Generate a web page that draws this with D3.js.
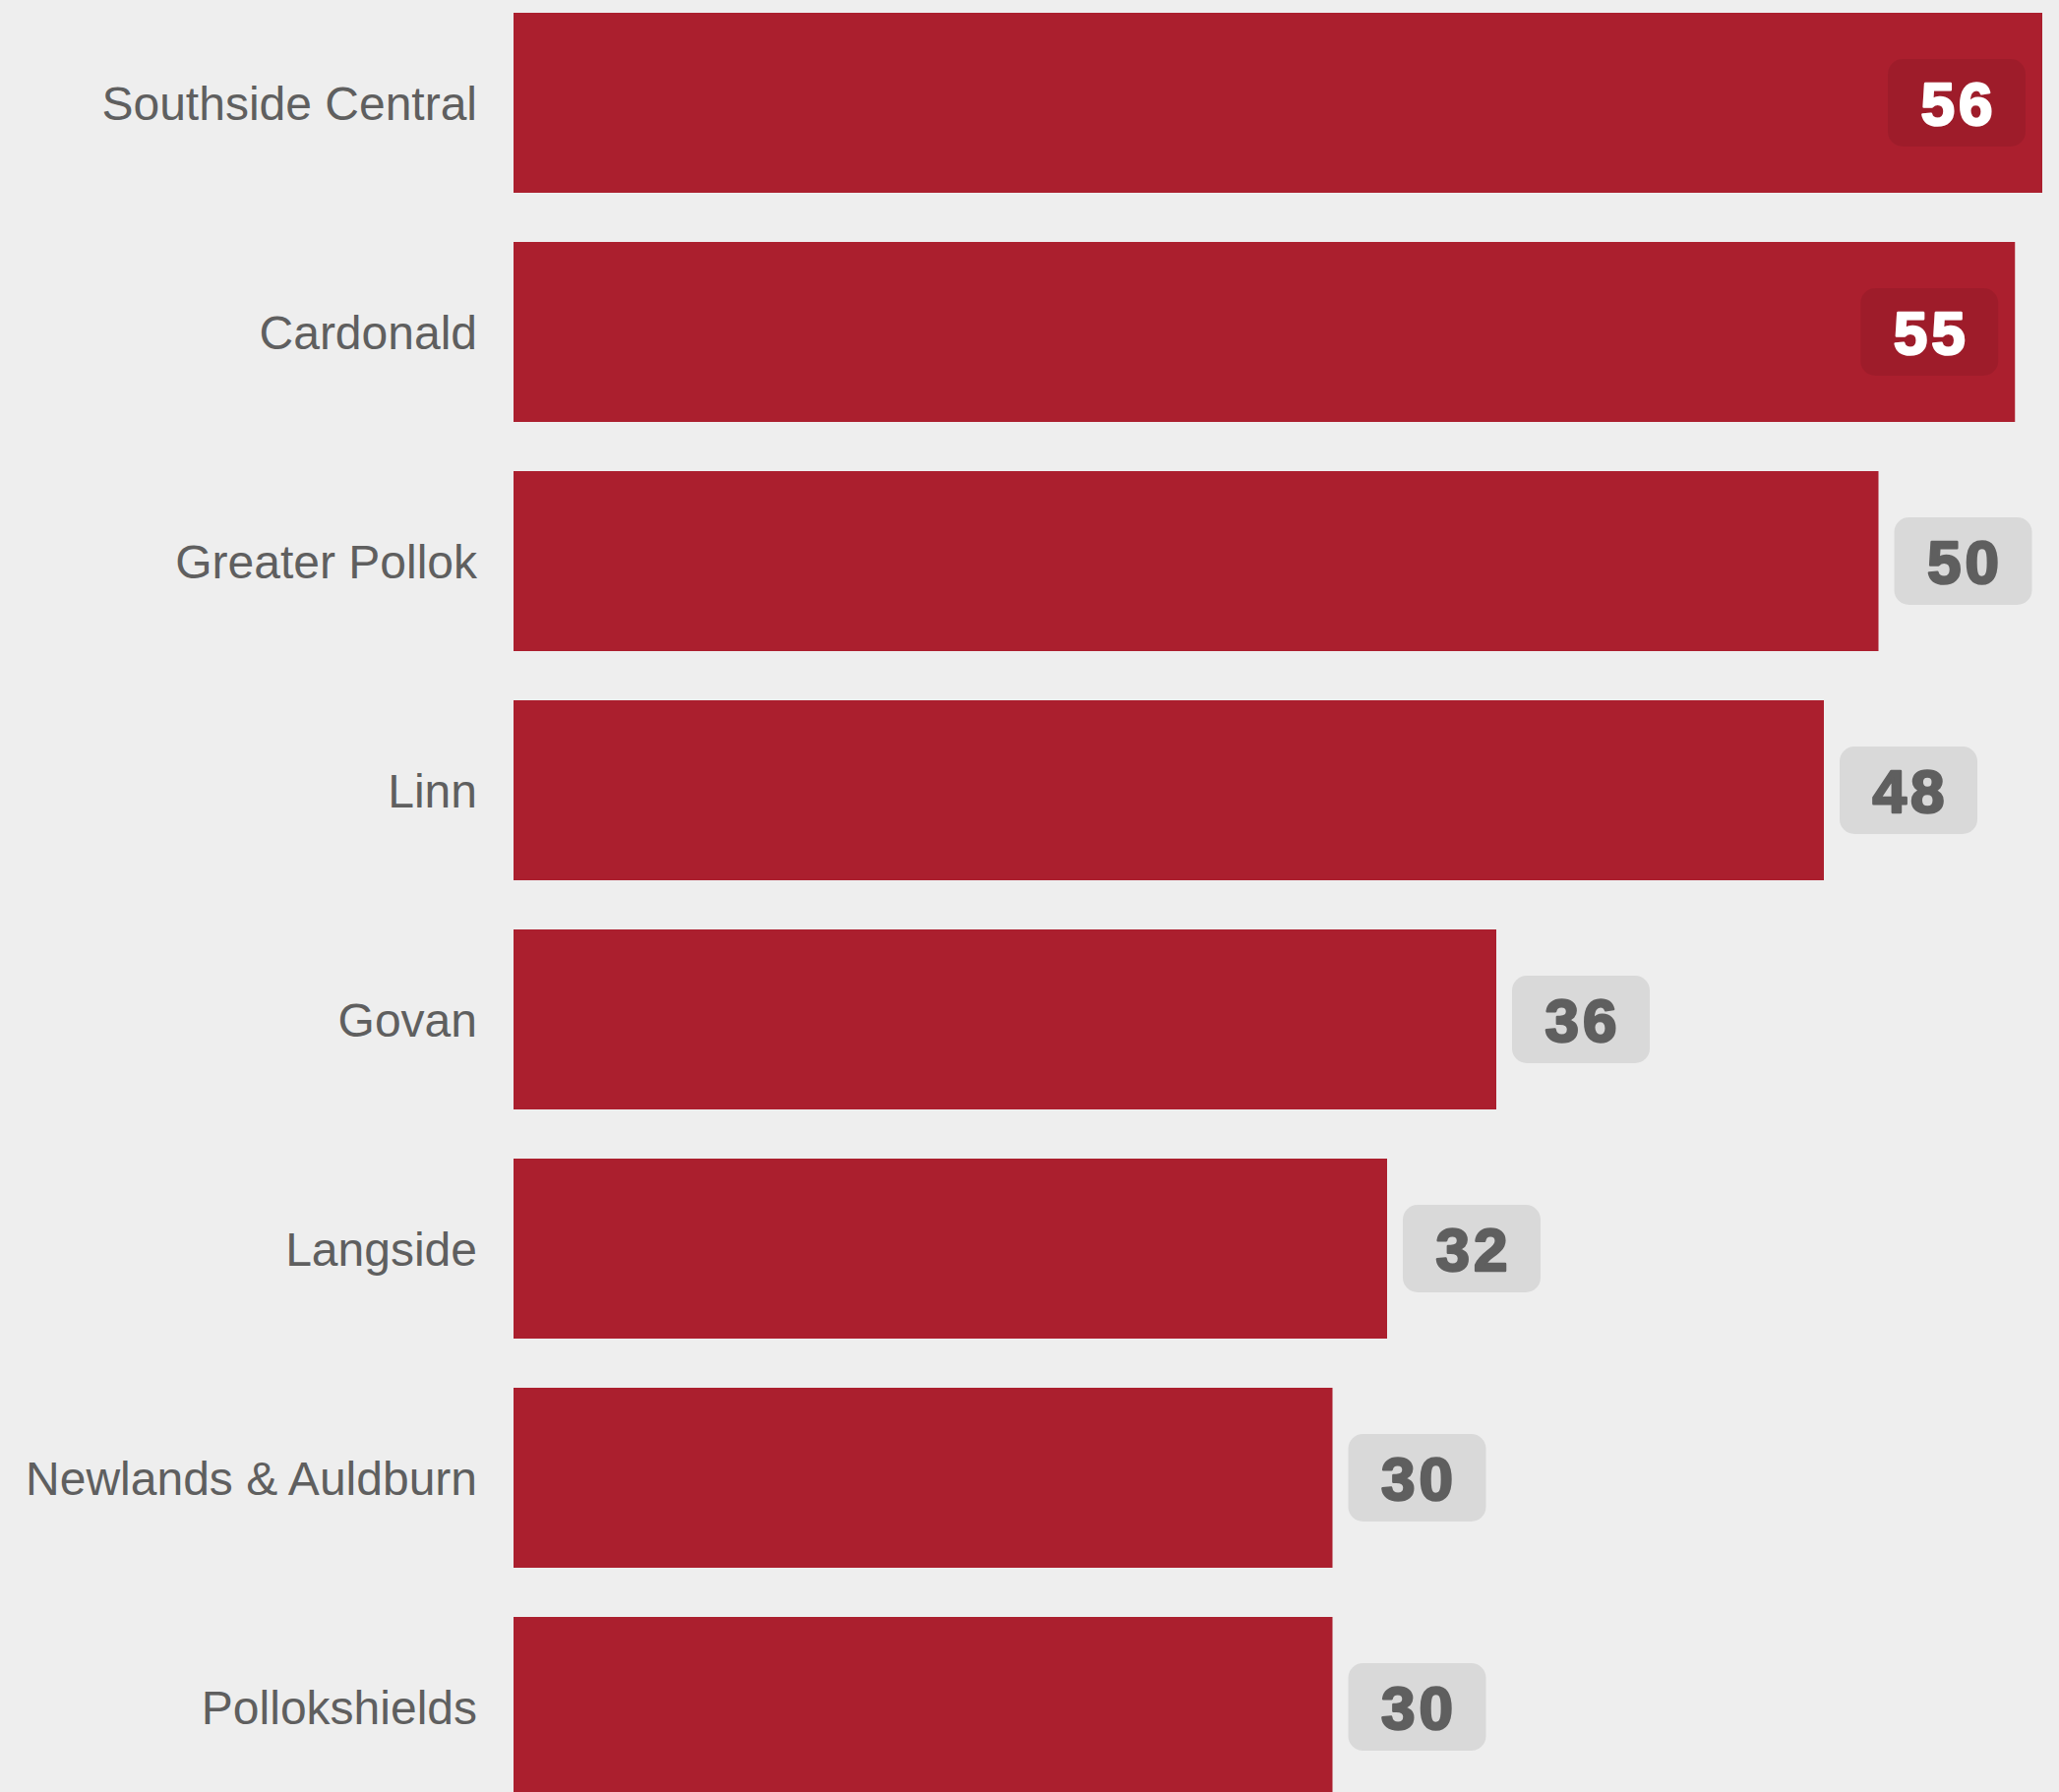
<!DOCTYPE html>
<html>
<head>
<meta charset="utf-8">
<script src="https://cdn.jsdelivr.net/npm/d3@7"></script>
<style>
  html, body { margin: 0; padding: 0; background: #eeeeee; }
  svg { display: block; }
</style>
</head>
<body>
<svg id="chart" width="2093" height="1822"></svg>
<script>
// ward names, top to bottom
let wards = ["Southside Central", "Cardonald", "Greater Pollok", "Linn", "Govan",
             "Langside", "Newlands & Auldburn", "Pollokshields"];
let counts = [56, 55, 50, 48, 36, 32, 30, 30];

let svg = d3.select("#chart");
let width = 2093;
let margin = { top: 13, left: 522, right: 17 };

let xScale = d3.scaleLinear()
  .domain([0, 56])
  .range([margin.left, width - margin.right]);

// 233px per row, bar 183 tall, gap 50
let step = 233, gap = 50;
let yScale = d3.scaleBand()
  .domain(wards)
  .range([margin.top, margin.top + step * wards.length - gap])
  .paddingInner(gap / step)
  .paddingOuter(0);

let boxW = 140, boxH = 89;

let rows = svg.selectAll("g.row")
  .data(wards)
  .enter().append("g")
  .attr("class", "row");

rows.append("rect")
  .attr("x", xScale(0))
  .attr("y", d => yScale(d))
  .attr("width", (d, i) => xScale(counts[i]) - xScale(0))
  .attr("height", yScale.bandwidth())
  .attr("fill", "#ab1f2e");

rows.append("text")
  .attr("x", xScale(0) - 37)
  .attr("y", d => yScale(d) + yScale.bandwidth() / 2)
  .attr("dy", "0.36em")
  .attr("text-anchor", "end")
  .attr("font-family", "'Liberation Sans', Arial, sans-serif")
  .attr("font-size", 48)
  .attr("fill", "#5f5f5f")
  .text(d => d);

// value badges: inside the bar if it would run off the edge
let inside = i => xScale(counts[i]) + 16 + boxW > width;
let boxX = i => inside(i) ? xScale(counts[i]) - 17 - boxW : xScale(counts[i]) + 16;

rows.append("rect")
  .attr("x", (d, i) => boxX(i))
  .attr("y", d => yScale(d) + yScale.bandwidth() / 2 - boxH / 2)
  .attr("width", boxW)
  .attr("height", boxH)
  .attr("rx", 15)
  .attr("fill", (d, i) => inside(i) ? "rgba(0,0,0,0.07)" : "#d9d9d9");

rows.append("text")
  .attr("x", (d, i) => boxX(i) + boxW / 2 + 2)
  .attr("y", d => yScale(d) + yScale.bandwidth() / 2)
  .attr("dy", "0.36em")
  .attr("text-anchor", "middle")
  .attr("font-family", "'Liberation Sans', Arial, sans-serif")
  .attr("font-weight", "bold")
  .attr("font-size", 62)
  .attr("letter-spacing", 4)
  .attr("stroke-width", 2.5)
  .attr("stroke-linejoin", "round")
  .attr("fill", (d, i) => inside(i) ? "#ffffff" : "#5f5f5f")
  .attr("stroke", (d, i) => inside(i) ? "#ffffff" : "#5f5f5f")
  .text((d, i) => counts[i]);
</script>
</body>
</html>
